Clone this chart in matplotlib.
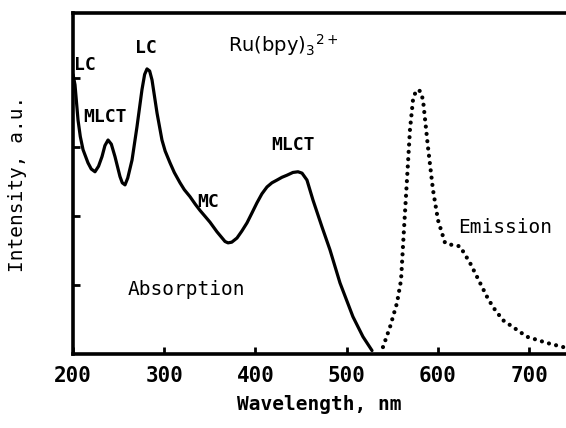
import matplotlib
matplotlib.use("Agg")
import matplotlib.pyplot as plt

# Absorption spectrum of Ru(bpy)3 2+ (wavelength in nm, intensity in a.u.)
abs_wl = [200, 202.2, 205.5, 208, 211.0, 216.4, 220, 224.1, 228, 231.8, 235,
          238.4, 242, 246.0, 251.5, 254, 257.0, 260, 264.7, 270.1, 275.6, 278.5,
          281.1, 284, 286.6, 292.1, 297.5, 301, 306.3, 311, 317.3, 322, 328.2,
          334, 339.2, 345, 350.1, 357.8, 366.6, 369.9, 374, 379.7, 385, 390.7,
          396, 401.6, 407, 412.6, 418, 423.6, 429, 434.5, 441, 446.6, 451,
          456.4, 463.0, 472.9, 481.6, 492.6, 506.8, 517.8, 527.7]
abs_val = [4.05, 3.90, 3.39, 3.15, 2.96, 2.77, 2.68, 2.64, 2.72, 2.86, 3.02,
           3.10, 3.04, 2.86, 2.57, 2.48, 2.45, 2.55, 2.81, 3.29, 3.83, 4.05,
           4.13, 4.10, 3.97, 3.49, 3.10, 2.94, 2.77, 2.63, 2.48, 2.38, 2.28,
           2.17, 2.08, 1.99, 1.91, 1.77, 1.63, 1.61, 1.62, 1.68, 1.78, 1.90,
           2.04, 2.19, 2.32, 2.42, 2.48, 2.52, 2.56, 2.59, 2.63, 2.64, 2.62,
           2.52, 2.23, 1.84, 1.51, 1.03, 0.54, 0.25, 0.05]

# Emission spectrum
em_wl = [539.7, 547.4, 555.1, 559.5, 562.7, 566.0, 569.3, 572.6, 575.5, 578.1,
         581, 583.6, 589.0, 594.5, 600.0, 607.7, 615.3, 624.1, 635.1, 642.7,
         653.7, 660.3, 671.2, 682.2, 697.5, 719.5, 740.3]
em_val = [0.10, 0.39, 0.74, 1.07, 1.80, 2.52, 3.25, 3.68, 3.80, 3.83,
          3.80, 3.68, 3.00, 2.38, 1.94, 1.61, 1.58, 1.56, 1.32, 1.12,
          0.83, 0.68, 0.49, 0.39, 0.25, 0.16, 0.09]

x_ticks = [200, 300, 400, 500, 600, 700]
y_ticks = [1, 2, 3, 4]

plt.rcParams['font.family'] = ['DejaVu Sans Mono', 'DejaVu Sans']

fig = plt.figure(figsize=(5.66, 4.28), dpi=100)
ax = fig.add_axes([73 / 566, 74 / 428, 1 - 73 / 566, 341 / 428])

ax.plot(abs_wl, abs_val, color='black', lw=2.3, solid_capstyle='round',
        solid_joinstyle='round')
ax.plot(em_wl, em_val, color='black', lw=3.0, linestyle=(0, (0.01, 1.75)),
        dash_capstyle='round')

ax.set_xlim(200, 740.3)
ax.set_ylim(0, 4.94)
ax.set_xticks(x_ticks)
ax.set_xticklabels([str(t) for t in x_ticks], fontsize=15, fontweight='bold')
ax.set_yticks(y_ticks)
ax.set_yticklabels([])
ax.tick_params(direction='in', length=5, width=2, pad=9)

for side in ('left', 'bottom', 'top'):
    ax.spines[side].set_linewidth(2.6)
ax.spines['right'].set_visible(False)

ax.set_xlabel('Wavelength, nm', fontsize=14, fontweight='bold', labelpad=6)
ax.set_ylabel('Intensity, a.u.', fontsize=14, labelpad=24)

lab = dict(fontsize=13, fontweight='bold', va='center')
ax.text(201, 4.19, 'LC', ha='left', **lab)
ax.text(211, 3.43, 'MLCT', ha='left', **lab)
ax.text(280, 4.43, 'LC', ha='center', **lab)
ax.text(336, 2.20, 'MC', ha='left', **lab)
ax.text(441, 3.03, 'MLCT', ha='center', **lab)

ax.text(370, 4.48, r'Ru(bpy)$_3$$^{2+}$', ha='left', va='center',
        fontsize=14, family='DejaVu Sans')
ax.text(260, 0.94, 'Absorption', ha='left', va='center', fontsize=14)
ax.text(622, 1.83, 'Emission', ha='left', va='center', fontsize=14)

fig.savefig('out.png', dpi=100)
